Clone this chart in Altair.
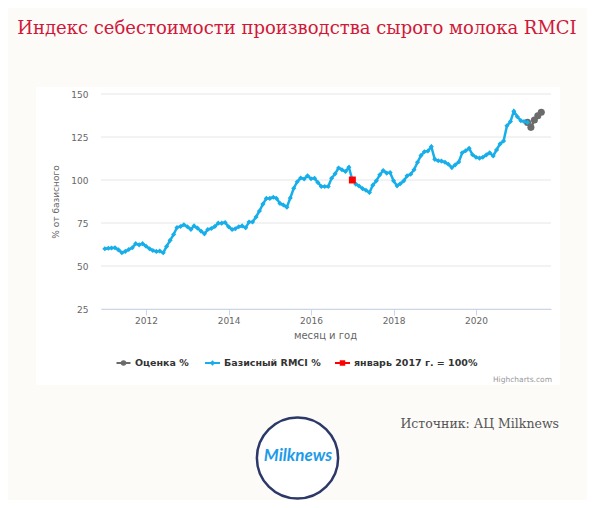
import altair as alt
import pandas as pd

# ---- data ----
base_start = "2011-01-01"
base_vals = [
    60, 60.3, 60.5, 60.6, 59.4, 57.7, 58.5, 59.6, 60.6, 63, 62.3, 63,
    61.5, 60, 59, 58.5, 58.7, 57.7, 61.4, 64.9, 68.3, 72.4, 73, 74,
    72.8, 71.3, 73.3, 72, 70.3, 68.7, 71.2, 71.8, 73, 74.9, 74.9, 75.3,
    72.8, 71.2, 71.7, 72.8, 73.3, 72.2, 75.6, 75.6, 78.5, 82, 86, 89.3,
    89.3, 90, 89.3, 86.4, 85.5, 84.2, 89.5, 95.2, 99, 101.2, 100.6, 102.4,
    100.7, 101, 98.6, 96.2, 96.2, 96.2, 101, 103.6, 107, 106, 104.9, 107.4,
    100, 97.6, 96.5, 95, 94, 92.7, 97, 99.5, 103, 105.5, 104, 104.3,
    99.5, 96.6, 97.8, 99.5, 102.4, 103.3, 106, 110.3, 114.3, 116.4, 116.9, 119.4,
    112, 111.2, 111, 110.3, 109.2, 107.2, 108.8, 110.5, 115.8, 117, 118.4, 114.7,
    113.2, 112.7, 113.2, 114.6, 115.8, 114, 117.5, 121, 122.7, 131.5, 134, 140,
    136.8, 134.5, 134, 133.5,
]
est_start = "2021-04-01"
est_vals = [133.5, 130.6, 134.9, 137.4, 139.4]
ref_dates = ["2017-01-01"]
ref_vals = [100]
y_ticks = [25, 50, 75, 100, 125, 150]
x_tick_years = [2012, 2014, 2016, 2018, 2020]

legend_names = ["Оценка %", "Базисный RMCI %", "январь 2017 г. = 100%"]
legend_colors = ["#6b6b6b", "#17aee9", "#ff0000"]
legend_shapes = ["circle", "diamond", "square"]

# ---- tables ----
base_df = pd.DataFrame({
    "date": pd.date_range(base_start, periods=len(base_vals), freq="MS"),
    "v": base_vals,
})
est_df = pd.DataFrame({
    "date": pd.date_range(est_start, periods=len(est_vals), freq="MS"),
    "v": est_vals,
})
ref_df = pd.DataFrame({"date": pd.to_datetime(ref_dates), "v": ref_vals})
grid_df = pd.DataFrame({"v": y_ticks})
one = pd.DataFrame({"a": [0]})

FONT = "DejaVu Sans"
GREY_TXT = "#666666"

x_scale = alt.Scale(domain=[alt.DateTime(year=2010, month=11, date=28),
                            alt.DateTime(year=2021, month=10, date=26)])
y_scale = alt.Scale(domain=[25, 150], nice=False, zero=False)

x_axis = alt.Axis(
    values=[alt.DateTime(year=y, month=1, date=1) for y in x_tick_years],
    format="%Y", grid=False, domainColor="#ccd6eb", tickColor="#ccd6eb",
    tickSize=6, labelPadding=1, labelColor=GREY_TXT, labelFont=FONT,
    labelFontSize=9, labelFlush=False,
    title="месяц и год", titleFont=FONT, titleFontSize=10,
    titleFontWeight="normal", titleColor=GREY_TXT, titleX=224, titleY=26,
    titleBaseline="middle", titleAlign="center", zindex=1,
)
y_axis = alt.Axis(
    values=y_ticks, grid=False, domain=False, ticks=False, labelPadding=13,
    labelColor=GREY_TXT, labelFont=FONT, labelFontSize=9,
    title="% от базисного", titleFont=FONT, titleFontSize=9,
    titleFontWeight="normal", titleColor=GREY_TXT, titleX=-46, titleY=107.5,
    titleAngle=270, titleAlign="center", titleBaseline="middle", zindex=1,
)


def X():
    return alt.X("date:T", scale=x_scale, axis=x_axis)


def Y():
    return alt.Y("v:Q", scale=y_scale, axis=y_axis)


panel = alt.Chart(one).mark_rect(fill="white").encode(
    x=alt.value(-65), x2=alt.value(459), y=alt.value(-7), y2=alt.value(291)
)

grid = alt.Chart(grid_df).mark_rule(color="#e6e6e6", strokeWidth=1).encode(y=Y())

est_line = alt.Chart(est_df).mark_line(
    color=legend_colors[0], strokeWidth=2.5,
    point=alt.OverlayMarkDef(shape="circle", size=50, filled=True,
                             color=legend_colors[0], opacity=1),
).encode(x=X(), y=Y())

base_line = alt.Chart(base_df).mark_line(
    color=legend_colors[1], strokeWidth=2.5,
    point=alt.OverlayMarkDef(shape="diamond", size=26, filled=True,
                             color=legend_colors[1], opacity=1),
).encode(x=X(), y=Y())

ref_pt = alt.Chart(ref_df).mark_point(
    shape="square", size=48, filled=True, color=legend_colors[2], opacity=1
).encode(x=X(), y=Y())

# ---- legend (drawn by hand, Highcharts style) ----
leg_df = pd.DataFrame({
    "name": legend_names,
    "color": legend_colors,
    "shape": legend_shapes,
    "x0": [15.5, 104, 234],
    "x1": [29.5, 119, 249],
    "xm": [22.5, 111.5, 241.5],
    "xt": [34, 123, 253],
})
LEG_Y = 269
leg_lines = alt.Chart(leg_df).mark_rule(strokeWidth=2).encode(
    x=alt.X("x0:Q", scale=None), x2="x1:Q", y=alt.value(LEG_Y),
    color=alt.Color("color:N", scale=None),
)
leg_pts = alt.Chart(leg_df).mark_point(filled=True, opacity=1, size=30).encode(
    x=alt.X("xm:Q", scale=None), y=alt.value(LEG_Y),
    color=alt.Color("color:N", scale=None),
    shape=alt.Shape("shape:N", scale=None),
)
leg_txt = alt.Chart(leg_df).mark_text(
    align="left", baseline="middle", font=FONT, fontSize=9.5,
    fontWeight="bold", color="#333333",
).encode(x=alt.X("xt:Q", scale=None), y=alt.value(LEG_Y), text="name:N")

credits = alt.Chart(one).mark_text(
    align="right", baseline="middle", font=FONT, fontSize=7.5, color="#999999"
).encode(x=alt.value(451), y=alt.value(286), text=alt.value("Highcharts.com"))

title = alt.Chart(one).mark_text(
    align="center", baseline="middle", font="DejaVu Serif", fontSize=18,
    color="#d0193a",
).encode(x=alt.value(196), y=alt.value(-65),
         text=alt.value("Индекс себестоимости производства сырого молока RMCI"))

source = alt.Chart(one).mark_text(
    align="right", baseline="middle", font="DejaVu Serif", fontSize=12.5,
    color="#555555",
).encode(x=alt.value(458), y=alt.value(330), text=alt.value("Источник: АЦ Milknews"))

logo_circle = alt.Chart(one).mark_point(
    shape="circle", size=6600, filled=False, stroke="#2b3868", strokeWidth=2.5,
    fill="white", opacity=1, fillOpacity=1,
).encode(x=alt.value(196.5), y=alt.value(364))

logo_txt = alt.Chart(one).mark_text(
    align="center", baseline="middle", font="Lato", fontSize=17,
    fontStyle="italic", fontWeight="bold", color="#1e9be8",
).encode(x=alt.value(197), y=alt.value(362), text=alt.value("Milknews"))

chart = alt.layer(
    panel, grid, est_line, base_line, ref_pt,
    leg_lines, leg_pts, leg_txt, credits,
    title, source, logo_circle, logo_txt,
).properties(
    width=450, height=215,
    autosize=alt.AutoSizeParams(type="none"),
    padding={"left": 93, "top": 86, "right": 36, "bottom": 191},
).configure(background="#fcfbf8").configure_view(stroke=None)

chart.save("out.html", embed_options={"renderer": "svg", "actions": False})
